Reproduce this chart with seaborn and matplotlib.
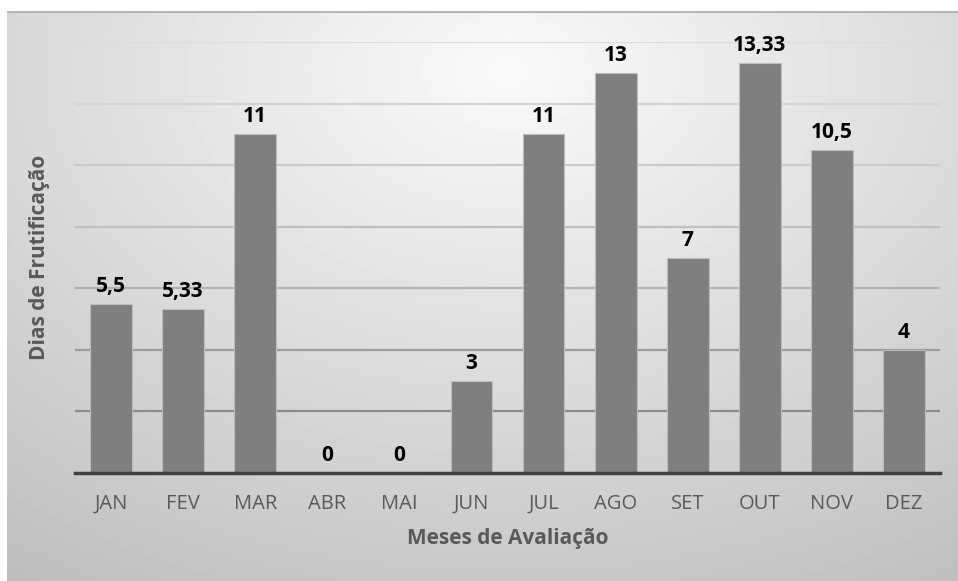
import numpy as np
import pandas as pd
import matplotlib
matplotlib.use("Agg")
import matplotlib.pyplot as plt
import seaborn as sns

# --------------------------------------------------------------
# Data
# --------------------------------------------------------------
months = ["JAN", "FEV", "MAR", "ABR", "MAI", "JUN",
          "JUL", "AGO", "SET", "OUT", "NOV", "DEZ"]
dias = [5.5, 5.33, 11, 0, 0, 3, 11, 13, 7, 13.33, 10.5, 4]
grid_levels = [2, 4, 6, 8, 10, 12, 14]

df = pd.DataFrame({"Mes": months, "Dias": dias})

# --------------------------------------------------------------
# Figure
# --------------------------------------------------------------
sns.set_style("white")
plt.rcParams["font.family"] = ["Open Sans", "DejaVu Sans"]

W, H = 958, 581
fig = plt.figure(figsize=(W / 100, H / 100), dpi=100)
fig.patch.set_facecolor("white")

# gradient background of the chart area
bg = fig.add_axes([7 / W, 0, (W - 7) / W, (H - 11) / H])
yy, xx = np.mgrid[0:570, 0:951]
r = np.sqrt(((xx - 500) / 900.0) ** 2 + ((yy - 60) / 620.0) ** 2)
shade = 0.98 - 0.24 * np.clip(r, 0, 1)
bg.imshow(shade, cmap="gray", vmin=0, vmax=1, aspect="auto",
          extent=[0, 951, 570, 0], interpolation="bilinear")
bg.set_axis_off()
bg.plot([0, 951], [0.5, 0.5], color="#b4b4b4", lw=1.5)

ax = fig.add_axes([75 / W, 1 - 473 / H, 865 / W, 431 / H])
ax.set_facecolor("none")

# gridlines get darker towards the bottom
grid_colors = ["#8c8c8c", "#9c9c9c", "#b2b2b2", "#c0c0c0",
               "#cacaca", "#d4d4d4", "#dcdcdc"]
for lvl, c in zip(grid_levels, grid_colors):
    ax.axhline(lvl, color=c, lw=1.6, zorder=0)

sns.barplot(data=df, x="Mes", y="Dias", color="#7f7f7f", width=0.58,
            saturation=1, edgecolor="#bdbdbd", linewidth=0.8, ax=ax, zorder=2)

labels = [f"{v:g}".replace(".", ",") for v in dias]
ax.bar_label(ax.containers[0], labels=labels, padding=5,
             fontsize=15, fontweight="bold", color="black")

ax.set_xlim(-0.5, 11.5)
ax.set_ylim(0, 14)
ax.set_yticks([])
for s in ["top", "right", "left"]:
    ax.spines[s].set_visible(False)
ax.spines["bottom"].set_color("#404040")
ax.spines["bottom"].set_linewidth(2.5)
ax.spines["bottom"].set_zorder(3)

ax.tick_params(axis="x", length=0, pad=15, labelsize=14.5, labelcolor="#595959")
ax.set_xlabel("Meses de Avaliação", fontsize=15, fontweight="bold",
              color="#595959", labelpad=10)
ax.set_ylabel("Dias de Frutificação", fontsize=15, fontweight="bold",
              color="#595959", labelpad=18)

plt.savefig("out.png", format="png", dpi=100)
